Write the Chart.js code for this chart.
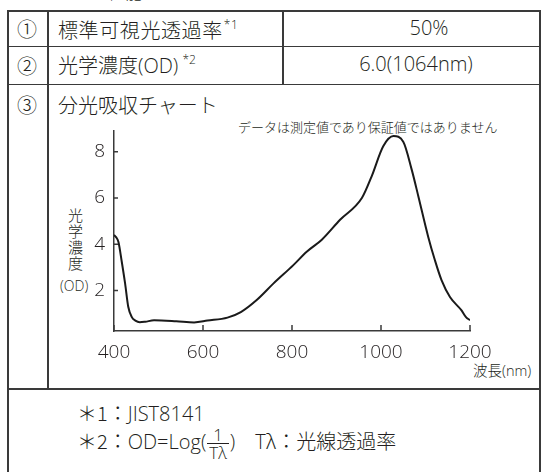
<!DOCTYPE html>
<html>
<head>
<meta charset="utf-8">
<script src="https://cdn.jsdelivr.net/npm/chart.js@4"></script>
<style>
  body { margin: 0; width: 546px; height: 472px; overflow: hidden; background: #fff; position: relative;
         font-family: "Open Sans", "Noto Sans CJK JP", sans-serif; color: #231f20; }
  .ln { position: absolute; background: #3a3a3a; }
  .t { position: absolute; white-space: nowrap; line-height: 1; }
  .jp { font-family: "Noto Sans CJK JP", sans-serif; font-weight: 300; }
  .en { font-family: "Open Sans", sans-serif; font-weight: 300; }
  sup { font-family: "Open Sans", sans-serif; font-weight: 300; font-size: 12px; vertical-align: 9px; margin-left: 1px; }
  .frac { display: inline-block; vertical-align: middle; text-align: center; line-height: 1; margin: 0 1px; }
  .frac span { display: block; padding: 0 2px; font-size: 17px; }
  .frac .num { border-bottom: 1.2px solid #231f20; }
  canvas { position: absolute; left: 0; top: 0; }
</style>
</head>
<body>
<div class="t jp" style="left:74px;top:-17px;font-size:17px;">主な性能</div>

<div class="ln" style="left:7px;top:10px;width:533px;height:1.5px"></div>
<div class="ln" style="left:7px;top:45.5px;width:533px;height:1.5px"></div>
<div class="ln" style="left:7px;top:83.5px;width:533px;height:1.5px"></div>
<div class="ln" style="left:7px;top:388px;width:533px;height:1.5px"></div>
<div class="ln" style="left:7px;top:10px;width:2px;height:462px"></div>
<div class="ln" style="left:47px;top:10px;width:1.5px;height:379px"></div>
<div class="ln" style="left:282px;top:10px;width:1.5px;height:75px"></div>
<div class="ln" style="left:539px;top:10px;width:1.5px;height:462px"></div>

<div class="t jp" style="left:17px;top:19px;font-size:20px;">①</div>
<div class="t jp" style="left:58px;top:19px;font-size:20px;letter-spacing:0.6px">標準可視光透過率<sup>*1</sup></div>
<div class="t en" style="left:429px;top:18px;font-size:20px;transform:translateX(-50%)">50%</div>

<div class="t jp" style="left:17px;top:56px;font-size:20px;">②</div>
<div class="t jp" style="left:58px;top:54px;font-size:20px;">光学濃度<span class="en">(OD)</span><sup> *2</sup></div>
<div class="t en" style="left:416px;top:54px;font-size:20px;transform:translateX(-50%)">6.0(1064nm)</div>

<div class="t jp" style="left:17px;top:95px;font-size:20px;">③</div>
<div class="t jp" style="left:58px;top:95px;font-size:20px;">分光吸収チャート</div>
<div class="t jp" style="left:238px;top:120px;font-size:13px;">データは測定値であり保証値ではありません</div>

<div class="t jp" style="left:68px;top:207px;font-size:15px;line-height:16px;width:15px;white-space:normal">光学濃度</div>
<div class="t en" style="left:60px;top:279px;font-size:14px;">(OD)</div>
<div class="t jp" style="left:473px;top:363px;font-size:14.5px;">波長<span class="en">(nm)</span></div>

<div class="t jp" style="left:77px;top:403px;font-size:20px;">＊1：<span class="en">JIST8141</span></div>
<div class="t jp" style="left:77px;top:426px;font-size:20px;">＊2：<span class="en">OD=Log(<span class="frac"><span class="num">1</span><span>Tλ</span></span>)</span>　<span class="en">T</span>λ：光線透過率</div>

<canvas id="chart" width="546" height="472" style="width:546px;height:472px"></canvas>

<script>
// wavelength (nm) and optical density
const wavelengths = [400, 405, 410, 417, 425, 432, 440, 448, 458, 470, 490, 540, 580, 610, 655, 685,
  720, 758, 803, 833, 867, 908, 957, 979, 1005, 1028, 1050, 1069, 1084, 1106, 1121, 1136, 1155, 1181, 1191, 1200];
const density = [4.4, 4.3, 4.1, 3.3, 2.3, 1.3, 0.85, 0.7, 0.63, 0.65, 0.71, 0.67, 0.62, 0.7, 0.83, 1.07,
  1.58, 2.3, 3.1, 3.68, 4.2, 5.06, 6.0, 6.94, 8.24, 8.68, 8.44, 7.23, 6.07, 4.33, 3.32, 2.45, 1.72, 1.14, 0.85, 0.72];
const xTicks = [400, 600, 800, 1000, 1200];
const yTicks = [2, 4, 6, 8];

const tickColor = "#3a3a3a";

// tick marks point into the plot in the original
const innerTicks = {
  id: "innerTicks",
  afterDraw(chart) {
    const { ctx, chartArea } = chart;
    const xs = chart.scales.x;
    const ys = chart.scales.y;
    ctx.save();
    ctx.strokeStyle = tickColor;
    ctx.lineWidth = 1.5;
    ctx.beginPath();
    xTicks.forEach((v) => {
      const px = xs.getPixelForValue(v);
      ctx.moveTo(px, chartArea.bottom);
      ctx.lineTo(px, chartArea.bottom - 6);
    });
    yTicks.forEach((v) => {
      const py = ys.getPixelForValue(v);
      ctx.moveTo(chartArea.left, py);
      ctx.lineTo(chartArea.left + 4, py);
    });
    ctx.stroke();
    ctx.restore();
  },
};

const ctx = document.getElementById("chart").getContext("2d");
new Chart(ctx, {
  type: "line",
  data: {
    datasets: [
      {
        data: wavelengths.map((w, i) => ({ x: w, y: density[i] })),
        borderColor: "#1a1a1a",
        borderWidth: 2,
        pointRadius: 0,
        cubicInterpolationMode: "monotone",
        fill: false,
      },
    ],
  },
  options: {
    responsive: false,
    animation: false,
    layout: { padding: { left: 0, right: 76, top: 131, bottom: 0 } },
    plugins: { legend: { display: false }, tooltip: { enabled: false } },
    scales: {
      x: {
        type: "linear",
        min: 400,
        max: 1200,
        afterBuildTicks: (s) => { s.ticks = xTicks.map((v) => ({ value: v })); },
        afterFit: (s) => { s.height = 141; },
        grid: { display: false, drawTicks: false },
        border: { display: true, color: tickColor, width: 1.5 },
        ticks: {
          color: "#231f20", padding: 10, maxRotation: 0,
          font: { family: "Open Sans", size: 19, weight: 300 },
          callback: (v) => String(v),
        },
      },
      y: {
        min: 0.25,
        max: 8.9,
        afterBuildTicks: (s) => { s.ticks = yTicks.map((v) => ({ value: v })); },
        afterFit: (s) => { s.width = 114; },
        grid: { display: false, drawTicks: false },
        border: { display: true, color: tickColor, width: 1.5 },
        ticks: {
          color: "#231f20", padding: 9,
          font: { family: "Open Sans", size: 19, weight: 300 },
          callback: (v) => String(v),
        },
      },
    },
  },
  plugins: [innerTicks],
});
</script>
</body>
</html>
